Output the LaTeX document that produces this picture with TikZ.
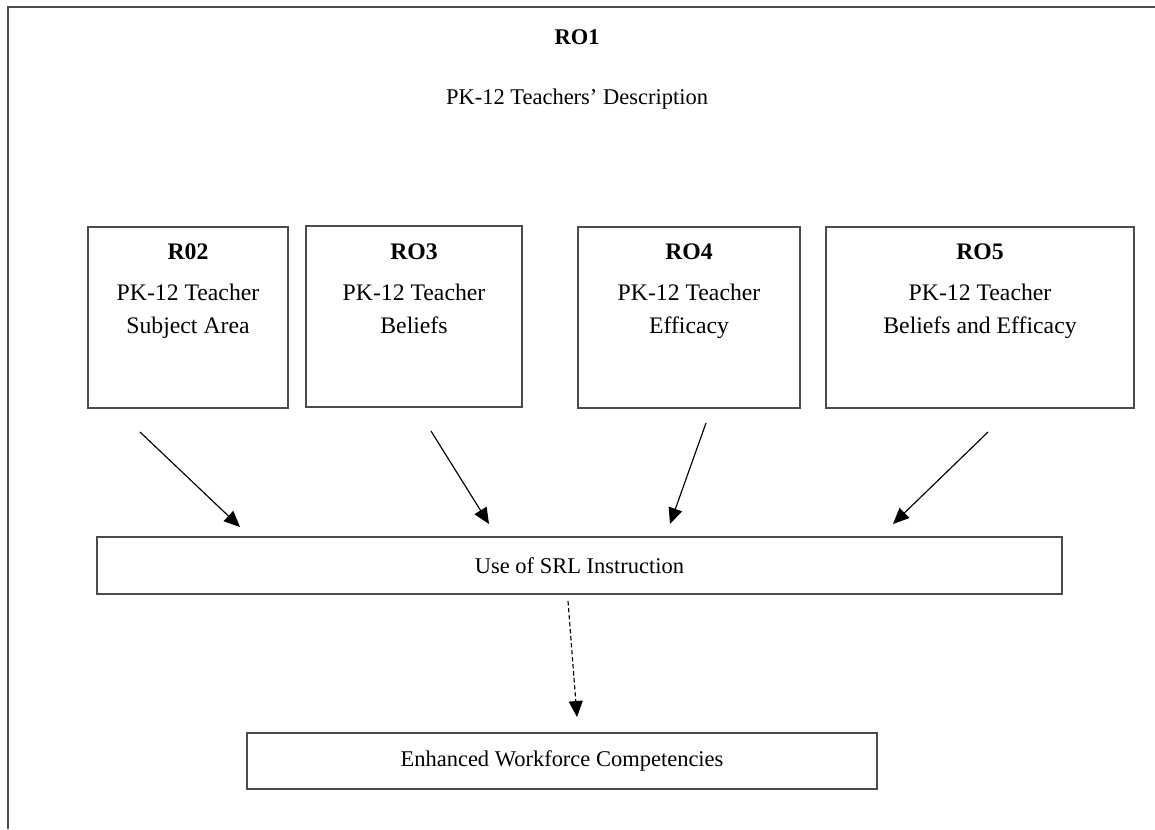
\documentclass[tikz,border=0pt]{standalone}
\usepackage{fontspec}
\setmainfont{Liberation Serif}
\usetikzlibrary{arrows.meta}
\begin{document}
\begin{tikzpicture}[x=0.02cm,y=-0.02cm,>={Triangle[length=3.2mm,width=2.8mm]},
  box/.style={draw=black!70,line width=1.1pt,rectangle,inner sep=0pt},
  txt/.style={font=\fontsize{12.8}{18.5}\selectfont,align=center},
  btxt/.style={font=\fontsize{13.5}{18.8}\selectfont,align=center},
  conn/.style={->,line width=0.65pt}]
\useasboundingbox (0,0) rectangle (1155,829);
% outer frame (open at right and bottom)
\draw[black!70,line width=1.1pt] (8,829) -- (8,7) -- (1155,7);
\node[txt,font=\fontsize{12.8}{18.5}\selectfont\bfseries] (ro1) at (577,37) {RO1};
\node[txt] (ro1d) at (577,99) {PK-12 Teachers’ Description};
% four boxes
\node[box,minimum width=4cm,minimum height=3.62cm] (ro2) at (188,317.5) {};
\node[box,minimum width=4.32cm,minimum height=3.62cm] (ro3) at (414,316.5) {};
\node[box,minimum width=4.44cm,minimum height=3.62cm] (ro4) at (689,317.5) {};
\node[box,minimum width=6.16cm,minimum height=3.62cm] (ro5) at (980,317.5) {};
\node[btxt,font=\fontsize{13.5}{18.8}\selectfont\bfseries] (ro2t) at (ro2.north |- 0,252) {R02};
\node[btxt,font=\fontsize{13.5}{18.8}\selectfont\bfseries] (ro3t) at (ro3.north |- 0,252) {RO3};
\node[btxt,font=\fontsize{13.5}{18.8}\selectfont\bfseries] (ro4t) at (ro4.north |- 0,252) {RO4};
\node[btxt,font=\fontsize{13.5}{18.8}\selectfont\bfseries] (ro5t) at (ro5.north |- 0,252) {RO5};
\node[btxt] (ro2d) at (ro2.north |- 0,311) {PK-12 Teacher\\Subject Area};
\node[btxt] (ro3d) at (ro3.north |- 0,309) {PK-12 Teacher\\Beliefs};
\node[btxt] (ro4d) at (ro4.north |- 0,311) {PK-12 Teacher\\Efficacy};
\node[btxt] (ro5d) at (ro5.north |- 0,311) {PK-12 Teacher\\Beliefs and Efficacy};
% lower boxes
\node[box,minimum width=19.3cm,minimum height=1.14cm] (srl) at (579.5,565.5) {};
\node[txt] (srlt) at (srl.center) {Use of SRL Instruction};
\node[box,minimum width=12.6cm,minimum height=1.12cm] (ewc) at (562,761) {};
\node[txt] (ewct) at (ewc.center) {Enhanced Workforce Competencies};
% arrow ends
\coordinate (a2s) at (140,432); \coordinate (a2e) at (240,527);
\coordinate (a3s) at (431,431); \coordinate (a3e) at (489,524);
\coordinate (a4s) at (706,423); \coordinate (a4e) at (670,524);
\coordinate (a5s) at (988,432); \coordinate (a5e) at (893,524);
\coordinate (ds) at (568,601); \coordinate (de) at (577,717);
\draw[conn] (a2s) -- (a2e);
\draw[conn] (a3s) -- (a3e);
\draw[conn] (a4s) -- (a4e);
\draw[conn] (a5s) -- (a5e);
\draw[conn,dashed,dash pattern=on 2.5pt off 1.5pt] (ds) -- (de);
\end{tikzpicture}
\end{document}
